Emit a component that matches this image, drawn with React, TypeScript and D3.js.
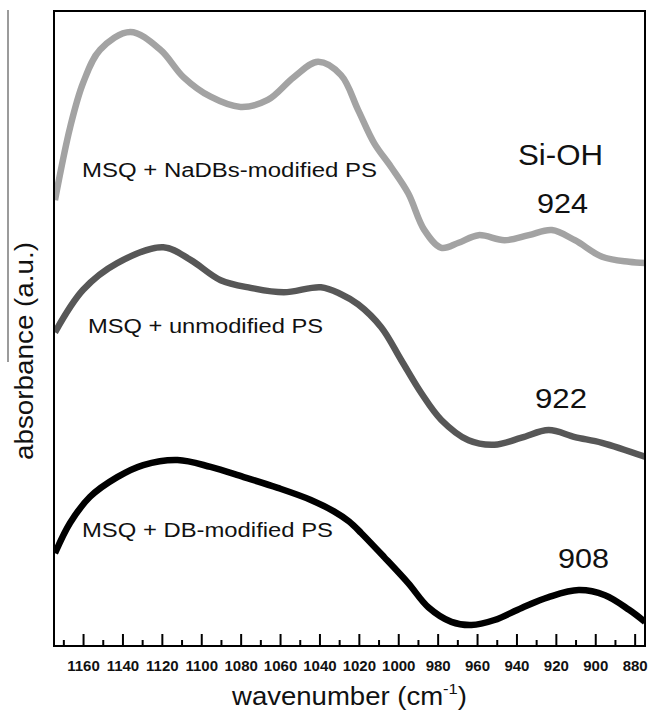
import React from "react";
import * as d3 from "d3";

// NaDBs-modified PS (light gray)
const naDBsWn = [1174.5, 1166.8, 1160.2, 1151.6, 1136.3, 1121, 1109.3, 1095.5, 1080.3, 1066.5, 1053.2, 1041, 1029.3, 1020.6, 1012.5, 1003.8, 995.2, 987, 978.4, 969.6, 959.5, 946.3, 934, 922.3, 910.6, 896.8, 883.1, 875];
const naDBsAbs = [70.2, 81.7, 88.7, 93.9, 96.7, 93.9, 89.6, 86.5, 84.9, 86.0, 89.6, 92.0, 89.9, 84.4, 79.2, 75.4, 71.3, 65.5, 62.7, 63.5, 64.7, 63.9, 64.7, 65.5, 63.9, 61.3, 60.5, 60.3];

// unmodified PS (dark gray)
const unmodWn = [1174.5, 1160.2, 1142.9, 1119.5, 1105.7, 1090.4, 1075.2, 1058.3, 1039.5, 1029.3, 1020.6, 1008.9, 998.7, 988.5, 978.4, 964.6, 951.4, 937.6, 923.9, 910.6, 896.8, 875];
const unmodAbs = [49.4, 56.1, 60.3, 62.8, 60.8, 57.6, 56.4, 55.7, 56.5, 55.4, 53.8, 50.2, 45.0, 39.8, 35.6, 32.4, 31.7, 32.8, 34.0, 32.9, 32.0, 29.8];

// DB-modified PS (black)
const dbWn = [1174.5, 1166.8, 1156.7, 1142.9, 1129.7, 1112.3, 1095.5, 1078.7, 1061.4, 1044.6, 1032.9, 1025.2, 1019.1, 1007.4, 995.2, 985, 973.3, 963.1, 951.4, 937.6, 923.9, 908.6, 895.3, 883.1, 875];
const dbAbs = [14.6, 19.4, 23.5, 26.6, 28.5, 29.3, 28.2, 26.6, 24.9, 23.0, 21.2, 19.6, 17.8, 14.0, 9.9, 6.1, 3.8, 3.3, 4.1, 6.0, 7.7, 8.8, 8.0, 5.7, 3.8];

const majorTicks = [1160, 1140, 1120, 1100, 1080, 1060, 1040, 1020, 1000, 980, 960, 940, 920, 900, 880];
const minorTicks = [1170, 1150, 1130, 1110, 1090, 1070, 1050, 1030, 1010, 990, 970, 950, 930, 910, 890];

const seriesLabels = ["MSQ + NaDBs-modified PS", "MSQ + unmodified PS", "MSQ + DB-modified PS"];
const peakLabels = ["924", "922", "908"];

const W = 648, H = 712;
const L = 54, R = 645, T = 11, B = 646;
const FONT = "'Liberation Sans', Arial, Helvetica, sans-serif";

export default function App() {
  const x = d3.scaleLinear().domain([1175, 875]).range([L, R]);
  const y = d3.scaleLinear().domain([0, 100]).range([B, T]);
  const line = d3
    .line<[number, number]>()
    .x((d) => x(d[0]))
    .y((d) => y(d[1]))
    .curve(d3.curveCatmullRom.alpha(0.5));

  const series = [
    { wn: naDBsWn, ab: naDBsAbs, color: "#a3a3a3" },
    { wn: unmodWn, ab: unmodAbs, color: "#575757" },
    { wn: dbWn, ab: dbAbs, color: "#000000" },
  ];

  return (
    <svg width={W} height={H} style={{ position: "absolute", left: 0, top: 0, background: "#fff" }} fontFamily={FONT}>
      <rect x={0} y={0} width={W} height={H} fill="#fff" />
      {/* stray vertical line at far left */}
      <line x1={8} y1={10} x2={8} y2={362} stroke="#7a7a7a" strokeWidth={1.5} />

      <defs>
        <clipPath id="plotClip">
          <rect x={L} y={T} width={R - L} height={B - T} />
        </clipPath>
      </defs>
      <g clipPath="url(#plotClip)">
        {series.map((s, i) => (
          <path
            key={i}
            d={line(s.wn.map((w, j) => [w, s.ab[j]] as [number, number])) || ""}
            fill="none"
            stroke={s.color}
            strokeWidth={6.5}
            strokeLinejoin="round"
            strokeLinecap="butt"
          />
        ))}
      </g>

      {/* frame */}
      <rect x={L} y={T} width={R - L} height={B - T} fill="none" stroke="#000" strokeWidth={2} />

      {/* ticks */}
      {majorTicks.map((t) => (
        <line key={"M" + t} x1={x(t)} x2={x(t)} y1={B} y2={B - 12} stroke="#000" strokeWidth={2} />
      ))}
      {minorTicks.map((t) => (
        <line key={"m" + t} x1={x(t)} x2={x(t)} y1={B} y2={B - 6} stroke="#000" strokeWidth={2} />
      ))}
      {majorTicks.map((t) => (
        <text key={"t" + t} x={x(t)} y={671} textAnchor="middle" fontSize={15} fontWeight="bold" fill="#111">
          {t}
        </text>
      ))}

      {/* axis titles */}
      <text x={232} y={705} fontSize={25} fill="#111" textLength={235} lengthAdjust="spacingAndGlyphs">
        wavenumber (cm<tspan dy={-11} fontSize={15}>-1</tspan><tspan dy={11}>)</tspan>
      </text>
      <text
        transform="translate(33,460) rotate(-90)"
        fontSize={25}
        fill="#111"
        textLength={218}
        lengthAdjust="spacingAndGlyphs"
      >
        absorbance (a.u.)
      </text>

      {/* series labels */}
      <text x={82} y={177} fontSize={20} fill="#111" textLength={295} lengthAdjust="spacingAndGlyphs">{seriesLabels[0]}</text>
      <text x={88} y={333} fontSize={20} fill="#111" textLength={235} lengthAdjust="spacingAndGlyphs">{seriesLabels[1]}</text>
      <text x={82} y={537} fontSize={20} fill="#111" textLength={251} lengthAdjust="spacingAndGlyphs">{seriesLabels[2]}</text>

      {/* peak annotations */}
      <text x={518} y={165} fontSize={30} fill="#111" textLength={85} lengthAdjust="spacingAndGlyphs">Si-OH</text>
      <text x={537} y={213} fontSize={28} fill="#111" textLength={51} lengthAdjust="spacingAndGlyphs">{peakLabels[0]}</text>
      <text x={535} y={408} fontSize={28} fill="#111" textLength={52} lengthAdjust="spacingAndGlyphs">{peakLabels[1]}</text>
      <text x={558} y={568} fontSize={28} fill="#111" textLength={51} lengthAdjust="spacingAndGlyphs">{peakLabels[2]}</text>
    </svg>
  );
}
